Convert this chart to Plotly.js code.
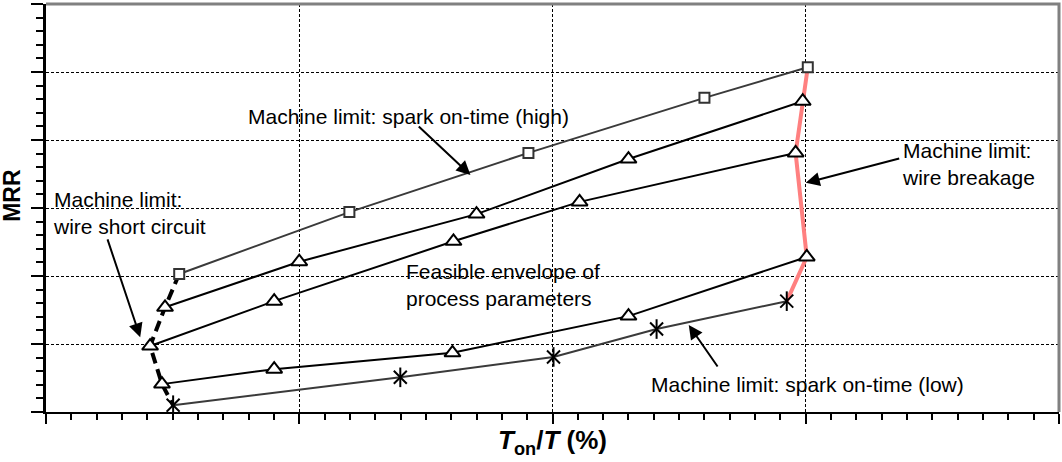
<!DOCTYPE html>
<html>
<head>
<meta charset="utf-8">
<script src="https://cdn.plot.ly/plotly-3.0.1.min.js"></script>
<style>html,body{margin:0;padding:0;background:#fff}#chart{width:1062px;height:462px}</style>
</head>
<body>
<div id="chart"></div>
<script>
// Data (Ton/T scale 0..40, MRR scale 0..6)
const highX = [5.26, 11.98, 19.05, 26.0, 30.08];
const highY = [2.03, 2.94, 3.81, 4.62, 5.07];
const tri1X = [4.70, 10.0, 17.0, 23.0, 29.88];
const tri1Y = [1.54, 2.21, 2.91, 3.72, 4.57];
const tri2X = [4.11, 9.01, 16.09, 21.07, 29.6];
const tri2Y = [0.97, 1.63, 2.51, 3.09, 3.81];
const tri3X = [4.58, 9.01, 16.05, 23.0, 30.04];
const tri3Y = [0.41, 0.63, 0.87, 1.41, 2.28];
const lowX = [5.02, 13.99, 20.04, 24.11, 29.25];
const lowY = [0.10, 0.51, 0.81, 1.22, 1.63];

const series = [[highX, highY], [tri1X, tri1Y], [tri2X, tri2Y], [tri3X, tri3Y], [lowX, lowY]];
const shortX = series.map(s => s[0][0]);
const shortY = series.map(s => s[1][0]);
const breakX = series.map(s => s[0][s[0].length - 1]);
const breakY = series.map(s => s[1][s[1].length - 1]);

const FONT = "Liberation Sans, Arial, sans-serif";

const traces = [
  {x: breakX, y: breakY, mode: 'lines', line: {color: '#ff8080', width: 4}, hoverinfo: 'skip'},
  {x: shortX, y: shortY, mode: 'lines', line: {color: '#000', width: 4, dash: '11px,6px'}, hoverinfo: 'skip'},
  {x: highX, y: highY, mode: 'lines+markers', line: {color: '#3a3a3a', width: 2},
   marker: {symbol: 'square', size: 10, color: '#fff', line: {color: '#333', width: 2}}},
  {x: tri1X, y: tri1Y, mode: 'lines+markers', line: {color: '#000', width: 2},
   marker: {symbol: 'triangle-up', size: 14, color: '#fff', line: {color: '#000', width: 2}}},
  {x: tri2X, y: tri2Y, mode: 'lines+markers', line: {color: '#000', width: 2},
   marker: {symbol: 'triangle-up', size: 14, color: '#fff', line: {color: '#000', width: 2}}},
  {x: tri3X, y: tri3Y, mode: 'lines+markers', line: {color: '#000', width: 2},
   marker: {symbol: 'triangle-up', size: 14, color: '#fff', line: {color: '#000', width: 2}}},
  {x: lowX, y: lowY, mode: 'lines+markers', line: {color: '#3a3a3a', width: 2},
   marker: {symbol: 'x-thin-open', size: 13, color: '#000', line: {color: '#000', width: 2}}},
  {x: lowX, y: lowY, mode: 'markers',
   marker: {symbol: 'line-ns-open', size: 14, color: '#000', line: {color: '#000', width: 2}}}
];

function arrow(hx, hy, tx, ty) {
  return {x: hx, y: hy, ax: tx, ay: ty, xref: 'x', yref: 'y', axref: 'x', ayref: 'y',
    text: '', showarrow: true, arrowhead: 2, arrowsize: 1.4, arrowwidth: 2, arrowcolor: '#000'};
}
function label(x, y, text) {
  return {x: x, y: y, xref: 'x', yref: 'y', text: text, showarrow: false,
    xanchor: 'left', yanchor: 'middle', align: 'left',
    font: {family: FONT, size: 21, color: '#000'}};
}

const layout = {
  width: 1062, height: 462,
  margin: {l: 46, r: 3, t: 4, b: 50},
  paper_bgcolor: '#fff', plot_bgcolor: '#fff',
  showlegend: false,
  font: {family: FONT, color: '#000'},
  xaxis: {
    range: [0, 40], dtick: 10, tick0: 0, showticklabels: false,
    ticks: 'outside', ticklen: 10, tickwidth: 2, tickcolor: '#000',
    showline: true, linecolor: '#000', linewidth: 2,
    showgrid: true, gridcolor: '#000', gridwidth: 1, griddash: '3px,2px',
    zeroline: false,
    minor: {dtick: 1, ticks: 'outside', ticklen: 6, tickwidth: 2, tickcolor: '#000', showgrid: false},
    title: {text: '<b><i>T</i><sub>on</sub>/<i>T</i> (%)</b>', font: {family: FONT, size: 26, color: '#000'}, standoff: 8}
  },
  yaxis: {
    range: [0, 6], dtick: 1, tick0: 0, showticklabels: false,
    ticks: 'outside', ticklen: 12, tickwidth: 2, tickcolor: '#000',
    showline: true, linecolor: '#000', linewidth: 3,
    showgrid: true, gridcolor: '#000', gridwidth: 1, griddash: '3px,2px',
    zeroline: false,
    minor: {dtick: 0.2, ticks: 'outside', ticklen: 7, tickwidth: 2, tickcolor: '#000', showgrid: false}
  },
  shapes: [
    {type: 'path', xref: 'paper', yref: 'paper', path: 'M 0,1 L 1,1 L 1,0',
     line: {color: '#808080', width: 3}}
  ],
  annotations: [
    {x: -0.0335, y: 0.53, xref: 'paper', yref: 'paper', text: '<b>MRR</b>', textangle: -90,
     showarrow: false, xanchor: 'center', yanchor: 'middle',
     font: {family: FONT, size: 23, color: '#000'}},
    label(7.90, 4.34, 'Machine limit: spark on-time (high)'),
    label(33.72, 3.65, 'Machine limit:<br>wire breakage'),
    label(0.20, 2.93, 'Machine limit:<br>wire short circuit'),
    label(14.15, 1.87, 'Feasible envelope of<br>process parameters'),
    label(23.83, 0.40, 'Machine limit: spark on-time (low)'),
    arrow(16.76, 3.485, 14.66, 4.22),
    arrow(30.0, 3.37, 33.75, 3.735),
    arrow(3.72, 1.10, 2.41, 2.56),
    arrow(25.38, 1.28, 26.56, 0.647)
  ]
};

Plotly.newPlot('chart', traces, layout, {displayModeBar: false, staticPlot: true});
</script>
</body>
</html>
